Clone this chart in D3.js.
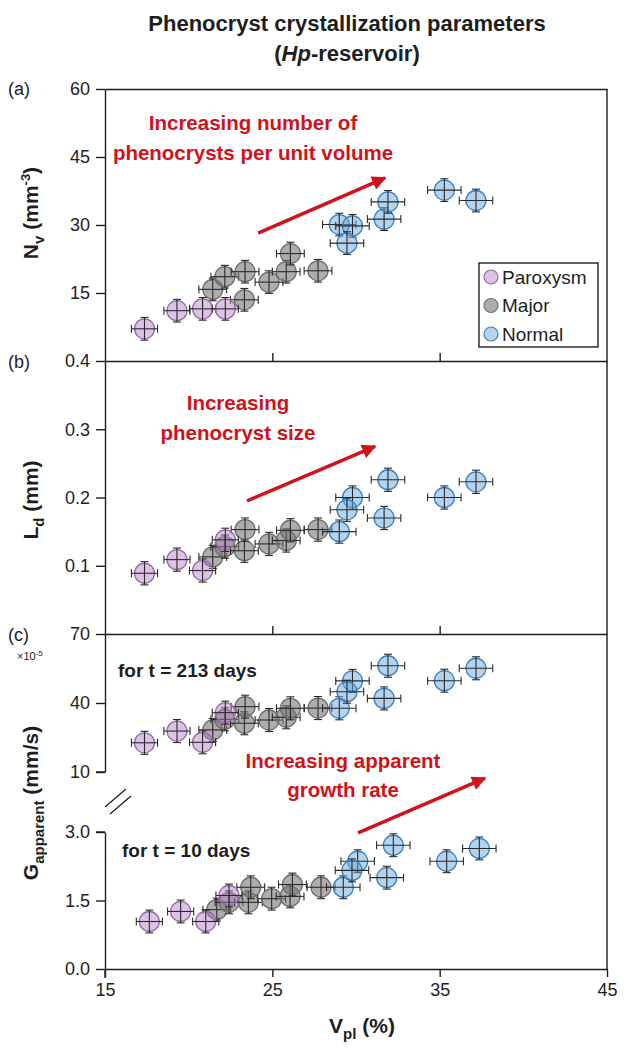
<!DOCTYPE html>
<html>
<head>
<meta charset="utf-8">
<script src="https://cdn.jsdelivr.net/npm/d3@7"></script>
<style>
  body { margin: 0; background: #fff; }
  text { font-family: "Liberation Sans", Arial, sans-serif; }
</style>
</head>
<body>
<svg></svg>
<script>
// chart size
const width = 630,
      height = 1049;

// sample data (one entry per eruption sample)
const groups = ["Paroxysm", "Major", "Normal"];
const sampleGroup = ["Paroxysm","Paroxysm","Paroxysm","Paroxysm",
  "Major","Major","Major","Major","Major","Major","Major","Major",
  "Normal","Normal","Normal","Normal","Normal","Normal","Normal"];
const vpl = [17.36,19.30,20.83,22.19, 21.44,22.16,23.33,23.37,24.80,25.83,26.08,27.73,
  29.00,29.79,29.46,31.68,31.91,35.28,37.17];
const vplErr = [0.78,0.78,0.78,0.78, 0.83,0.83,0.83,0.83,0.83,0.83,0.83,0.83,
  1.0,1.0,1.0,1.0,1.0,1.0,1.0];
const nv = [7.1,11.1,11.5,11.5, 15.8,18.6,13.5,19.7,17.4,19.7,23.7,19.9,
  30.1,29.8,26.0,31.3,35.1,37.7,35.4];
const ld = [0.089,0.109,0.093,0.138, 0.113,0.128,0.122,0.153,0.132,0.137,0.152,0.153,
  0.150,0.200,0.182,0.170,0.226,0.200,0.223];
const g213 = [22.7,27.8,22.9,35.8, 28.3,32.9,31.2,38.4,32.6,33.8,37.7,37.8,
  37.7,49.6,44.9,42.0,56.2,49.7,55.1];
// lower part of (c) sits a little to the right in the original figure
const vpl10 = [17.65,19.52,21.02,22.41, 21.68,22.41,23.57,23.71,24.96,26.06,26.20,27.91,
  29.24,30.10,29.76,31.84,32.23,35.42,37.37];
const g10 = [1.04,1.26,1.04,1.61, 1.30,1.46,1.46,1.79,1.54,1.59,1.85,1.79,
  1.79,2.36,2.16,2.00,2.71,2.36,2.64];
const nvErr = 2.5, ldErr = 0.017, g213Err = 5, g10Err = 0.25;

// tick labels
const xTicks = [15, 25, 35, 45];
const nvTicks = [15, 30, 45, 60];
const ldTicks = [0.1, 0.2, 0.3, 0.4];
const g213Ticks = [10, 40, 70];
const g10Ticks = [0, 1.5, 3.0];

const fillColor = {Paroxysm: "rgba(176,122,192,0.45)", Major: "rgba(118,118,118,0.6)", Normal: "rgba(108,168,218,0.5)"};
const strokeColor = {Paroxysm: "#9a68aa", Major: "#6e6e6e", Normal: "#3a82bd"};
const red = "#d0121b";
const ink = "#1e1e1e";

const svg = d3.select("svg")
    .attr("width", width)
    .attr("height", height);

const x = d3.scaleLinear().domain([15, 45]).range([105, 607]);
const yA = d3.scaleLinear().domain([0, 60]).range([361, 89]);
const yB = d3.scaleLinear().domain([0, 0.4]).range([634, 361]);
const yCU = d3.scaleLinear().domain([10, 70]).range([772, 634]);
const yCL = d3.scaleLinear().domain([0, 3]).range([969, 832]);

// arrow marker
svg.append("defs").append("marker")
    .attr("id", "arrow")
    .attr("viewBox", "0 0 10 10")
    .attr("refX", 9).attr("refY", 5)
    .attr("markerWidth", 5).attr("markerHeight", 4.2)
    .attr("markerUnits", "strokeWidth")
    .attr("orient", "auto")
  .append("path")
    .attr("d", "M0,0 L10,5 L0,10 z")
    .attr("fill", red);

function styleAxis(g) {
  g.selectAll("path, line").attr("stroke", ink).attr("stroke-width", 1.4);
  g.selectAll("text").attr("font-size", 18).attr("fill", ink)
    .attr("font-family", '"Liberation Sans", Arial, sans-serif');
}

// left axes
const leftAxes = [
  [yA, nvTicks, d3.format("d")],
  [yB, ldTicks, d3.format(".1f")],
  [yCU, g213Ticks, d3.format("d")],
  [yCL, g10Ticks, d3.format(".1f")]
];
leftAxes.forEach(([scale, ticks, fmt]) => {
  svg.append("g")
      .attr("transform", `translate(${x(15)},0)`)
      .call(d3.axisLeft(scale).tickValues(ticks).tickFormat(fmt).tickSize(9).tickSizeOuter(0).tickPadding(6))
      .call(styleAxis);
});

// tick at bottom of upper (c) part and at top of lower part
svg.append("line").attr("x1", x(15) - 9).attr("x2", x(15))
    .attr("y1", yCU(10)).attr("y2", yCU(10)).attr("stroke", ink).attr("stroke-width", 1.4);
svg.append("line").attr("x1", x(15) - 9).attr("x2", x(15))
    .attr("y1", yCL(3)).attr("y2", yCL(3)).attr("stroke", ink).attr("stroke-width", 1.4);
// left axis continues a little below the x axis
svg.append("line").attr("x1", x(15)).attr("x2", x(15))
    .attr("y1", yCL(0)).attr("y2", yCL(0) + 9).attr("stroke", ink).attr("stroke-width", 1.4);

// top border and inner panel boundaries with inward ticks
svg.append("g").attr("transform", `translate(0,${yA(60)})`)
    .call(d3.axisBottom(x).tickValues([]).tickSizeOuter(0))
    .call(styleAxis);
[yA(0), yB(0)].forEach(yy => {
  svg.append("g").attr("transform", `translate(0,${yy})`)
      .call(d3.axisTop(x).tickValues([25, 35]).tickFormat("").tickSize(8).tickSizeOuter(0))
      .call(styleAxis);
});
// bottom x axis
svg.append("g").attr("transform", `translate(0,${yCL(0)})`)
    .call(d3.axisBottom(x).tickValues(xTicks).tickFormat(d3.format("d")).tickSize(8).tickSizeOuter(0).tickPadding(6))
    .call(styleAxis);
// right border
svg.append("line").attr("x1", x(45)).attr("x2", x(45))
    .attr("y1", yA(60)).attr("y2", yCL(0)).attr("stroke", ink).attr("stroke-width", 1.4);

// axis break marks
[0, 5].forEach(off => {
  svg.append("line")
      .attr("x1", 105 + off).attr("y1", 807 + off * 1.4)
      .attr("x2", 126 + off).attr("y2", 789 + off * 1.4)
      .attr("stroke", ink).attr("stroke-width", 1.3);
});

// points with error bars
const drawOrder = ["Major", "Paroxysm", "Normal"];
function drawPoints(xs, ys, yErr, yScale) {
  const g = svg.append("g");
  drawOrder.forEach(grp => {
    sampleGroup.forEach((s, i) => {
      if (s !== grp) return;
      const cx = x(xs[i]), cy = yScale(ys[i]);
      g.append("circle").attr("cx", cx).attr("cy", cy).attr("r", 10)
          .attr("fill", fillColor[grp]).attr("stroke", strokeColor[grp]).attr("stroke-width", 1.3);
      const x0 = x(xs[i] - vplErr[i]), x1 = x(xs[i] + vplErr[i]);
      const y0 = yScale(ys[i] - yErr), y1 = yScale(ys[i] + yErr);
      const eb = g.append("g").attr("stroke", "#2a2a2a").attr("stroke-width", 1.1);
      eb.append("line").attr("x1", x0).attr("x2", x1).attr("y1", cy).attr("y2", cy);
      eb.append("line").attr("x1", x0).attr("x2", x0).attr("y1", cy - 4).attr("y2", cy + 4);
      eb.append("line").attr("x1", x1).attr("x2", x1).attr("y1", cy - 4).attr("y2", cy + 4);
      eb.append("line").attr("x1", cx).attr("x2", cx).attr("y1", y0).attr("y2", y1);
      eb.append("line").attr("x1", cx - 4).attr("x2", cx + 4).attr("y1", y0).attr("y2", y0);
      eb.append("line").attr("x1", cx - 4).attr("x2", cx + 4).attr("y1", y1).attr("y2", y1);
    });
  });
}
drawPoints(vpl, nv, nvErr, yA);
drawPoints(vpl, ld, ldErr, yB);
drawPoints(vpl, g213, g213Err, yCU);
drawPoints(vpl10, g10, g10Err, yCL);

// red annotation arrows (start/end in data units of each panel)
const arrows = [
  [yA, [24.15, 28.2], [31.74, 40.4]],
  [yB, [23.49, 0.195], [31.14, 0.275]],
  [yCL, [30.12, 2.98], [37.71, 4.18]]
];
arrows.forEach(([ys, a, b]) => {
  svg.append("line")
      .attr("x1", x(a[0])).attr("y1", ys(a[1]))
      .attr("x2", x(b[0])).attr("y2", ys(b[1]))
      .attr("stroke", red).attr("stroke-width", 3.4)
      .attr("marker-end", "url(#arrow)");
});

function addText(t, px, py, opts) {
  return svg.append("text").attr("x", px).attr("y", py)
      .attr("font-size", opts.size || 18)
      .attr("font-weight", opts.bold ? "bold" : "normal")
      .attr("fill", opts.fill || ink)
      .attr("text-anchor", opts.anchor || "start")
      .text(t);
}

// red labels
addText("Increasing number of", 253, 130, {size: 20.5, bold: true, fill: red, anchor: "middle"});
addText("phenocrysts per unit volume", 253, 160, {size: 20.5, bold: true, fill: red, anchor: "middle"});
addText("Increasing", 238, 410, {size: 20.5, bold: true, fill: red, anchor: "middle"});
addText("phenocryst size", 238, 440, {size: 20.5, bold: true, fill: red, anchor: "middle"});
addText("Increasing apparent", 343, 768, {size: 20.5, bold: true, fill: red, anchor: "middle"});
addText("growth rate", 343, 797, {size: 20.5, bold: true, fill: red, anchor: "middle"});

// black labels inside panel c
addText("for t = 213 days", 118, 677, {size: 19, bold: true});
addText("for t = 10 days", 122, 857, {size: 19, bold: true});

// panel letters
addText("(a)", 8, 95, {size: 18});
addText("(b)", 8, 368, {size: 18});
addText("(c)", 8, 641, {size: 18});
const sci = addText("×10", 17, 660, {size: 11});
sci.append("tspan").attr("dy", -4).attr("font-size", 8).text("-5");

// title
addText("Phenocryst crystallization parameters", 347, 31, {size: 22, bold: true, anchor: "middle"});
const t2 = addText("(", 347, 61, {size: 22, bold: true, anchor: "middle"});
t2.append("tspan").attr("font-style", "italic").text("Hp");
t2.append("tspan").text("-reservoir)");

// x title
const xt = addText("V", 362, 1033, {size: 21, bold: true, anchor: "middle"});
xt.append("tspan").attr("dy", 6).attr("font-size", 15).text("pl");
xt.append("tspan").attr("dy", -6).text(" (%)");

// rotated y titles
function yTitle(cy, main, sub, unit, sup, unitEnd) {
  const t = svg.append("text")
      .attr("transform", `translate(38,${cy}) rotate(-90)`)
      .attr("text-anchor", "middle")
      .attr("font-size", 21).attr("font-weight", "bold").attr("fill", ink);
  t.append("tspan").text(main);
  t.append("tspan").attr("dy", 6).attr("font-size", 15).text(sub);
  t.append("tspan").attr("dy", -6).text(" " + unit);
  if (sup) {
    t.append("tspan").attr("dy", -8).attr("font-size", 13).text(sup);
    t.append("tspan").attr("dy", 8).text(unitEnd);
  }
}
yTitle(213, "N", "v", "(mm", "-3", ")");
yTitle(500, "L", "d", "(mm)");
yTitle(803, "G", "apparent", "(mm/s)");

// legend
const lg = svg.append("g");
lg.append("rect").attr("x", 479).attr("y", 263).attr("width", 119).attr("height", 84)
    .attr("fill", "#fff").attr("stroke", ink).attr("stroke-width", 1.4);
groups.forEach((grp, i) => {
  const ly = 277 + i * 28.5;
  lg.append("circle").attr("cx", 491).attr("cy", ly).attr("r", 7)
      .attr("fill", fillColor[grp]).attr("stroke", strokeColor[grp]).attr("stroke-width", 1.2);
  lg.append("text").attr("x", 502).attr("y", ly + 6.5)
      .attr("font-size", 19).attr("fill", ink).text(grp);
});
</script>
</body>
</html>
